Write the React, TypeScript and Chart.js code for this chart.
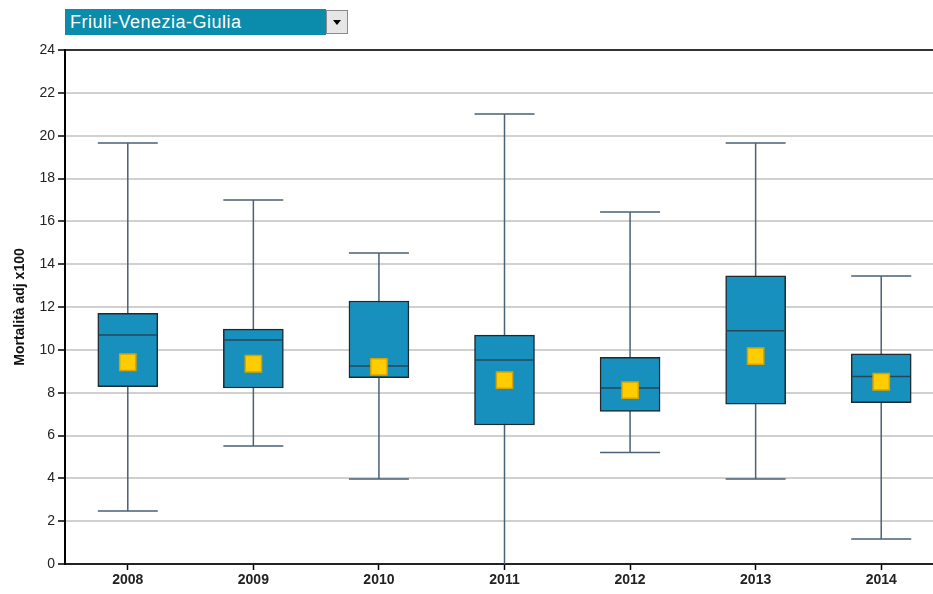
import React, { useEffect, useRef } from 'react';
import { Chart, registerables } from 'chart.js';

Chart.register(...registerables);

const regionLabel = 'Friuli-Venezia-Giulia';
const yAxisTitle = 'Mortalità adj x100';
const years = ['2008', '2009', '2010', '2011', '2012', '2013', '2014'];
const whiskerLow = [2.47, 5.51, 3.97, 0, 5.21, 3.97, 1.17];
const q1 = [8.28, 8.22, 8.7, 6.49, 7.13, 7.46, 7.53];
const median = [10.69, 10.46, 9.25, 9.52, 8.22, 10.89, 8.76];
const q3 = [11.71, 10.97, 12.28, 10.69, 9.65, 13.45, 9.81];
const whiskerHigh = [19.66, 17.0, 14.52, 21.01, 16.44, 19.66, 13.45];
const means = [9.42, 9.35, 9.2, 8.59, 8.12, 9.71, 8.51];
const yMin = 0;
const yMax = 24;
const yStep = 2;

const FONT = '"Liberation Sans", Arial, sans-serif';
const CANVAS_W = 957;
const CANVAS_H = 594;

const boxPlugin = {
  id: 'boxExtras',
  beforeDatasetsDraw(chart: any) {
    const ctx = chart.ctx;
    const xs = chart.scales.x;
    const ys = chart.scales.y;
    const meta = chart.getDatasetMeta(0);
    ctx.save();
    ctx.strokeStyle = '#4a6176';
    ctx.lineWidth = 1.5;
    years.forEach((_, i) => {
      const x = xs.getPixelForValue(i);
      const half = (meta.data[i] ? meta.data[i].width : 60) / 2;
      const yl = ys.getPixelForValue(whiskerLow[i]);
      const yh = ys.getPixelForValue(whiskerHigh[i]);
      ctx.beginPath();
      ctx.moveTo(x, yl);
      ctx.lineTo(x, yh);
      if (whiskerLow[i] > yMin) {
        ctx.moveTo(x - half, yl);
        ctx.lineTo(x + half, yl);
      }
      ctx.moveTo(x - half, yh);
      ctx.lineTo(x + half, yh);
      ctx.stroke();
    });
    ctx.restore();
  },
  afterDatasetDraw(chart: any, args: any) {
    if (args.index !== 0) return;
    const ctx = chart.ctx;
    const xs = chart.scales.x;
    const ys = chart.scales.y;
    const meta = chart.getDatasetMeta(0);
    ctx.save();
    ctx.strokeStyle = '#24465a';
    ctx.lineWidth = 1.5;
    years.forEach((_, i) => {
      const x = xs.getPixelForValue(i);
      const half = (meta.data[i] ? meta.data[i].width : 60) / 2;
      const y = ys.getPixelForValue(median[i]);
      ctx.beginPath();
      ctx.moveTo(x - half + 1, y);
      ctx.lineTo(x + half - 1, y);
      ctx.stroke();
    });
    ctx.restore();
  },
  afterDraw(chart: any) {
    const ctx = chart.ctx;
    const a = chart.chartArea;
    ctx.save();
    ctx.strokeStyle = '#000';
    ctx.lineWidth = 1.5;
    ctx.beginPath();
    ctx.moveTo(a.left, a.top);
    ctx.lineTo(a.right, a.top);
    ctx.stroke();
    ctx.restore();
  },
};

export default function App() {
  const ref = useRef<HTMLCanvasElement | null>(null);

  useEffect(() => {
    if (!ref.current) return;
    const chart = new Chart(ref.current, {
      type: 'bar',
      data: {
        labels: years,
        datasets: [
          {
            type: 'bar',
            data: years.map((_, i) => [q1[i], q3[i]]) as any,
            backgroundColor: '#1890bd',
            borderColor: '#1f2a30',
            borderWidth: 1.5,
            borderSkipped: false,
            barThickness: 60,
            order: 2,
          },
          {
            type: 'line',
            data: means,
            showLine: false,
            pointStyle: 'rect',
            pointRadius: 11.5,
            pointBackgroundColor: '#ffcc00',
            pointBorderColor: '#d6a400',
            pointBorderWidth: 1.5,
            order: 1,
          } as any,
        ],
      },
      options: {
        responsive: false,
        maintainAspectRatio: false,
        animation: false,
        devicePixelRatio: 1,
        layout: { padding: { top: 50, right: 1, left: 0, bottom: 0 } },
        plugins: { legend: { display: false }, tooltip: { enabled: false } },
        scales: {
          x: {
            grid: {
              display: true,
              drawOnChartArea: false,
              offset: false,
              tickLength: 6,
              tickColor: '#000',
              tickWidth: 1.5,
            },
            border: { color: '#222', width: 2 },
            ticks: {
              color: '#222',
              padding: 2,
              font: { family: FONT, size: 14, weight: 'bold' },
            },
            afterFit(scale: any) {
              scale.height = 30;
            },
          },
          y: {
            min: yMin,
            max: yMax,
            ticks: {
              stepSize: yStep,
              color: '#222',
              padding: 3,
              font: { family: FONT, size: 14 },
            },
            grid: {
              color: '#d0d0d0',
              lineWidth: 2,
              tickLength: 7,
              tickColor: '#000',
              tickWidth: 1.5,
            },
            border: { color: '#000', width: 2 },
            title: {
              display: true,
              text: yAxisTitle,
              color: '#111',
              padding: { top: 12, bottom: 0 },
              font: { family: FONT, size: 14, weight: 'bold' },
            },
            afterFit(scale: any) {
              scale.width = 65;
            },
          },
        },
      },
      plugins: [boxPlugin],
    });
    return () => chart.destroy();
  }, []);

  return (
    <div
      style={{
        position: 'fixed',
        left: 0,
        top: 0,
        width: 933,
        height: 594,
        overflow: 'hidden',
        background: '#fff',
      }}
    >
      <div style={{ position: 'absolute', left: 0, top: 0, width: CANVAS_W, height: CANVAS_H }}>
        <canvas
          ref={ref}
          width={CANVAS_W}
          height={CANVAS_H}
          style={{ display: 'block', width: CANVAS_W, height: CANVAS_H }}
        />
      </div>
      <div
        style={{
          position: 'absolute',
          left: 65,
          top: 9,
          width: 261,
          height: 26,
          background: '#0b8cab',
          color: '#fff',
          fontFamily: FONT,
          fontSize: 18,
          letterSpacing: 0.5,
          lineHeight: '26px',
          paddingLeft: 5,
          boxSizing: 'border-box',
          whiteSpace: 'nowrap',
        }}
      >
        {regionLabel}
      </div>
      <div
        style={{
          position: 'absolute',
          left: 326,
          top: 10,
          width: 22,
          height: 24,
          background: '#e6e6e6',
          border: '1px solid #8a8a8a',
          boxSizing: 'border-box',
        }}
      >
        <div
          style={{
            position: 'absolute',
            left: 6,
            top: 9,
            width: 0,
            height: 0,
            borderLeft: '4px solid transparent',
            borderRight: '4px solid transparent',
            borderTop: '5px solid #000',
          }}
        />
      </div>
    </div>
  );
}
